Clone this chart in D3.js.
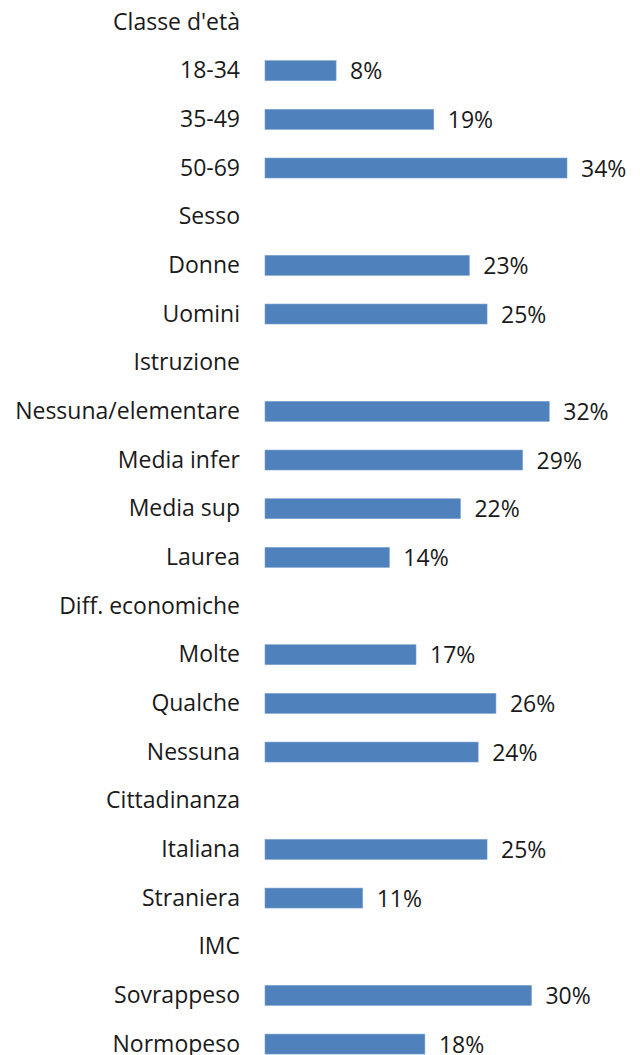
<!DOCTYPE html>
<html>
<head>
<meta charset="utf-8">
<script src="https://cdn.jsdelivr.net/npm/d3@7"></script>
<style>
  html, body { margin: 0; padding: 0; background: #fff; }
  svg { display: block; }
</style>
</head>
<body>
<svg id="chart" width="640" height="1055"></svg>
<script>
// Row labels, top to bottom; group headings carry no value
const categories = [
  "Classe d'età", "18-34", "35-49", "50-69",
  "Sesso", "Donne", "Uomini",
  "Istruzione", "Nessuna/elementare", "Media infer", "Media sup", "Laurea",
  "Diff. economiche", "Molte", "Qualche", "Nessuna",
  "Cittadinanza", "Italiana", "Straniera",
  "IMC", "Sovrappeso", "Normopeso"
];
const values = [
  null, 8, 19, 34,
  null, 23, 25,
  null, 32, 29, 22, 14,
  null, 17, 26, 24,
  null, 25, 11,
  null, 30, 18
];

const svg = d3.select("#chart");
const labelRight = 240;
const x0 = 265;

const x = d3.scaleLinear().domain([0, 34]).range([x0, x0 + 302]);
const ids = categories.map((c, i) => i);
const y = d3.scaleBand()
  .domain(ids)
  .range([22 - 48.67 / 2, 22 - 48.67 / 2 + 48.67 * categories.length])
  .paddingInner(0.59)
  .paddingOuter(0.295);

const rows = svg.selectAll("g.row")
  .data(categories.map((c, i) => ({ c, v: values[i], i })))
  .join("g")
  .attr("class", "row");

const font = "'Open Sans', sans-serif";
const fontSize = 23;

rows.append("text")
  .attr("x", labelRight)
  .attr("y", d => y(d.i) + y.bandwidth() / 2)
  .attr("dy", "0.33em")
  .attr("text-anchor", "end")
  .attr("font-family", font)
  .attr("font-size", fontSize)
  .attr("fill", "#1a1a1a")
  .text(d => d.c);

const bars = rows.filter(d => d.v != null);

bars.append("rect")
  .attr("x", x0)
  .attr("y", d => y(d.i))
  .attr("width", d => x(d.v) - x0)
  .attr("height", y.bandwidth())
  .attr("fill", "#4F81BD")
  .attr("stroke", "#7aa0d0")
  .attr("stroke-width", 0.6);

bars.append("text")
  .attr("x", d => x(d.v) + 14)
  .attr("y", d => y(d.i) + y.bandwidth() / 2)
  .attr("dy", "0.38em")
  .attr("font-family", font)
  .attr("font-size", fontSize)
  .attr("fill", "#1a1a1a")
  .text(d => d.v + "%");
</script>
</body>
</html>
